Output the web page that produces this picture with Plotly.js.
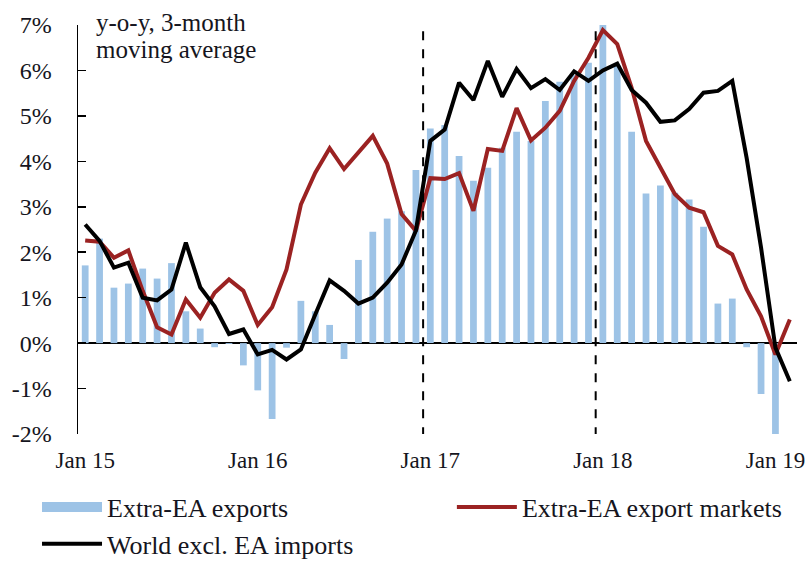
<!DOCTYPE html>
<html>
<head>
<meta charset="utf-8">
<script src="https://cdn.plot.ly/plotly-3.0.1.min.js"></script>
<style>html,body{margin:0;padding:0;background:#fff;}#chart{width:805px;height:561px;}</style>
</head>
<body>
<div id="chart"></div>
<script>
// Monthly categories Jan 15 .. Feb 19
const monthNames = ['Jan','Feb','Mar','Apr','May','Jun','Jul','Aug','Sep','Oct','Nov','Dec'];
const years = ['15','16','17','18','19'];
const months = [];
years.forEach(y => monthNames.forEach(m => months.push(m + ' ' + y)));
const categories = months.slice(0, 50);

// Extra-EA exports (bars), Jan 15 .. Jan 19
const extraEAExports = [
  1.71, 2.30, 1.22, 1.31, 1.64, 1.42, 1.76, 0.70, 0.32, -0.09,
  -0.02, -0.49, -1.04, -1.67, -0.10, 0.93, 0.70, 0.40, -0.35, 1.83,
  2.45, 2.74, 2.90, 3.81, 4.72, 4.80, 4.12, 3.57, 3.86, 4.30,
  4.65, 4.45, 5.33, 5.75, 5.90, 6.17, 7.03, 6.12, 4.65, 3.29,
  3.47, 3.31, 3.16, 2.56, 0.87, 0.98, -0.09, -1.12, -2.05
];

// Extra-EA export markets (red line), Jan 15 .. Feb 19
const extraEAMarkets = [
  2.26, 2.23, 1.88, 2.04, 1.15, 0.35, 0.19, 0.96, 0.56, 1.11,
  1.40, 1.15, 0.40, 0.79, 1.62, 3.05, 3.75, 4.29, 3.83, 4.19,
  4.56, 3.95, 2.84, 2.47, 3.63, 3.61, 3.74, 2.91, 4.27, 4.23,
  5.17, 4.46, 4.74, 5.11, 5.77, 6.28, 6.89, 6.58, 5.62, 4.45,
  3.86, 3.28, 2.98, 2.88, 2.14, 1.95, 1.18, 0.59, -0.25, 0.52
];

// World excl. EA imports (black line), Jan 15 .. Feb 19
const worldImports = [
  2.61, 2.25, 1.66, 1.77, 1.00, 0.94, 1.18, 2.21, 1.23, 0.81,
  0.20, 0.30, -0.25, -0.15, -0.36, -0.14, 0.63, 1.38, 1.15, 0.87,
  1.00, 1.33, 1.73, 2.48, 4.45, 4.70, 5.73, 5.35, 6.21, 5.42,
  6.03, 5.61, 5.81, 5.57, 5.98, 5.77, 6.00, 6.15, 5.57, 5.29,
  4.87, 4.90, 5.15, 5.51, 5.55, 5.77, 4.07, 2.10, -0.10, -0.84
];

const xTickVals = ['Jan 15','Jan 16','Jan 17','Jan 18','Jan 19'];
const yTickVals = [-2, -1, 0, 1, 2, 3, 4, 5, 6, 7];
const yTickText = ['-2%','-1%','0%','1%','2%','3%','4%','5%','6%','7%'];
const dividerMonths = ['Jan 17','Jan 18'];

const serif = 'Liberation Serif, Times New Roman, serif';
const textColor = '#151520';
const barColor = '#9dc3e6';

const traces = [
  {
    type: 'bar', name: 'Extra-EA exports',
    x: categories.slice(0, extraEAExports.length), y: extraEAExports,
    marker: {color: barColor}, showlegend: false
  },
  {
    type: 'scatter', mode: 'lines', name: 'Extra-EA export markets',
    x: categories, y: extraEAMarkets,
    line: {color: '#9b2222', width: 4}, legend: 'legend2'
  },
  {
    type: 'scatter', mode: 'lines', name: 'World excl. EA imports',
    x: categories, y: worldImports,
    line: {color: '#000000', width: 4}, legend: 'legend', legendrank: 2
  },
  {
    // legend key for the bar series (drawn as a wide block like the original)
    type: 'scatter', mode: 'lines', name: 'Extra-EA exports',
    x: [null], y: [null], hoverinfo: 'skip',
    line: {color: barColor, width: 14}, legend: 'legend', legendrank: 1
  }
];

const shapes = dividerMonths.map(m => ({
  type: 'line', xref: 'x', yref: 'y',
  x0: categories.indexOf(m) - 0.5, x1: categories.indexOf(m) - 0.5,
  y0: -2.05, y1: 6.95,
  line: {color: '#000', width: 2, dash: 'dash'}
}));

const layout = {
  width: 805, height: 561,
  margin: {l: 78, r: 8, t: 25, b: 127, autoexpand: false},
  paper_bgcolor: '#fff', plot_bgcolor: '#fff',
  bargap: 0.53,
  showlegend: true,
  font: {family: serif, color: textColor},
  xaxis: {
    type: 'category', range: [-0.5, 49.5],
    tickvals: xTickVals, ticktext: xTickVals,
    showline: false, showgrid: false, zeroline: false, ticks: '',
    tickfont: {family: serif, size: 23, color: textColor},
    ticklabelstandoff: 10
  },
  yaxis: {
    range: [-2, 7],
    tickvals: yTickVals, ticktext: yTickText,
    showline: true, linecolor: '#000', linewidth: 1.5,
    ticks: 'inside', ticklen: 8, tickwidth: 1.5, tickcolor: '#000',
    showgrid: false, zeroline: true, zerolinecolor: '#000', zerolinewidth: 1.5,
    tickfont: {family: serif, size: 24, color: textColor},
    ticklabelstandoff: 20
  },
  shapes: shapes,
  annotations: [
    {text: 'y-o-y, 3-month', xref: 'paper', yref: 'paper', x: 0.022, y: 1.007,
     xanchor: 'left', yanchor: 'middle', showarrow: false,
     font: {family: serif, size: 25, color: textColor}},
    {text: 'moving average', xref: 'paper', yref: 'paper', x: 0.022, y: 0.939,
     xanchor: 'left', yanchor: 'middle', showarrow: false,
     font: {family: serif, size: 25, color: textColor}}
  ],
  legend: {
    orientation: 'v', x: -0.057, xanchor: 'left', y: -0.121, yanchor: 'top',
    font: {family: serif, size: 26, color: textColor}, tracegroupgap: 0,
    itemwidth: 60, bgcolor: 'rgba(0,0,0,0)', traceorder: 'normal'
  },
  legend2: {
    orientation: 'v', x: 0.52, xanchor: 'left', y: -0.121, yanchor: 'top',
    font: {family: serif, size: 26, color: textColor},
    itemwidth: 60, bgcolor: 'rgba(0,0,0,0)'
  }
};

Plotly.newPlot('chart', traces, layout, {displayModeBar: false, staticPlot: true});
</script>
</body>
</html>
